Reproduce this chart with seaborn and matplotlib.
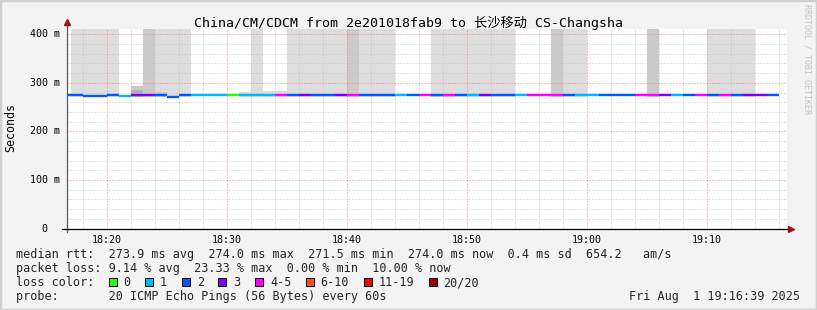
import numpy as np
import pandas as pd
import matplotlib
matplotlib.use("Agg")
import matplotlib.pyplot as plt
import seaborn as sns
from matplotlib.ticker import MultipleLocator, FixedLocator, NullFormatter
from matplotlib.lines import Line2D
from matplotlib.patches import Rectangle
from matplotlib import transforms

# ---------------- data ----------------
start_times = ["18:16:40"] + [t.strftime("%H:%M") for t in
                              pd.date_range("2025-08-01 18:17", "2025-08-01 19:15", freq="1min")]
end_time = "19:16"

median_ms = [274.0,
             274.0, 272.0, 272.0, 274.0, 272.0, 274.0, 274.0, 274.0, 271.5, 274.0,
             274.0, 274.0, 274.0, 274.0, 274.0, 274.0, 274.0, 274.0, 274.0, 274.0,
             274.0, 274.0, 274.0, 274.0, 274.0, 274.0, 274.0, 274.0, 274.0, 274.0,
             274.0, 274.0, 274.0, 274.0, 274.0, 274.0, 274.0, 274.0, 274.0, 274.0,
             274.0, 274.0, 274.0, 274.0, 274.0, 274.0, 274.0, 274.0, 274.0, 274.0,
             274.0, 274.0, 274.0, 274.0, 274.0, 274.0, 274.0, 274.0, 274.0]

loss_pings = [2,
              2, 2, 2, 2, 1, 3, 3, 2, 2, 2,
              1, 1, 1, 0, 1, 1, 1, 4, 2, 3,
              2, 2, 3, 4, 2, 2, 2, 1, 2, 4,
              2, 4, 2, 1, 3, 2, 2, 1, 4, 4,
              4, 2, 1, 1, 2, 2, 2, 4, 4, 3,
              1, 2, 4, 2, 4, 2, 3, 3, 2]

nan = np.nan
# smoke band tops (ms); 480 = outliers above the visible range
smoke_light_top = [nan,
                   480, 480, 480, 480, nan, nan, nan, 480, 480, 480,
                   nan, nan, nan, nan, 281, 480, 283, 283, 480, 480,
                   480, 480, 480, nan, 480, 480, 480, nan, nan, nan,
                   480, 480, 480, 480, 480, 480, 480, nan, nan, nan,
                   nan, 480, 480, nan, nan, nan, nan, nan, nan, nan,
                   nan, nan, nan, 480, 480, 480, 480, nan, nan]
smoke_dark_top = [nan,
                  nan, nan, nan, nan, nan, 293, 480, 282, nan, nan,
                  nan, nan, nan, nan, nan, nan, nan, nan, nan, nan,
                  nan, nan, nan, 480, nan, nan, nan, nan, nan, nan,
                  278, 278, nan, nan, nan, nan, nan, nan, nan, nan,
                  480, nan, nan, nan, nan, nan, nan, nan, 480, nan,
                  nan, nan, nan, nan, nan, nan, nan, nan, nan]
smoke_inner_top = [nan,
                   nan, nan, nan, nan, nan, 286, nan, nan, nan, nan,
                   nan, nan, nan, nan, nan, nan, nan, nan, nan, nan,
                   nan, nan, nan, nan, nan, nan, nan, nan, nan, nan,
                   nan, nan, nan, nan, nan, nan, nan, nan, nan, nan,
                   nan, nan, nan, nan, nan, nan, nan, nan, nan, nan,
                   nan, nan, nan, nan, nan, nan, nan, nan, nan]
smoke_low_ms = 271.0

loss_bins = ["0", "1", "2", "3", "4-5", "6-10", "11-19", "20/20"]
loss_bin_min = [0, 1, 2, 3, 4, 6, 11, 20]
loss_bin_colors = ["#26ff00", "#00b8ff", "#0059ff", "#7e00ff",
                   "#ff00ff", "#ff5500", "#ff0000", "#a10000"]

x_tick_labels = ["18:20", "18:30", "18:40", "18:50", "19:00", "19:10"]
y_tick_values = [0, 100, 200, 300, 400]
y_tick_labels = ["0", "100 m", "200 m", "300 m", "400 m"]

title = "China/CM/CDCM from 2e201018fab9 to 长沙移动 CS-Changsha"
line_rtt = "median rtt:  273.9 ms avg  274.0 ms max  271.5 ms min  274.0 ms now  0.4 ms sd  654.2   am/s"
line_loss = "packet loss: 9.14 % avg  23.33 % max  0.00 % min  10.00 % now"
line_color = "loss color:"
line_probe = "probe:       20 ICMP Echo Pings (56 Bytes) every 60s"
stamp = "Fri Aug  1 19:16:39 2025"
side_text = "RRDTOOL / TOBI OETIKER"

# ---------------- helpers ----------------
def to_min(s):
    p = [int(v) for v in s.split(":")]
    while len(p) < 3:
        p.append(0)
    return p[0] * 60 + p[1] + p[2] / 60.0 - 18 * 60

x_left = np.array([to_min(s) for s in start_times])
x_right = np.append(x_left[1:], to_min(end_time))
widths = x_right - x_left

def bin_index(n):
    idx = 0
    for i, m in enumerate(loss_bin_min):
        if n >= m:
            idx = i
    return idx

seg_colors = [loss_bin_colors[bin_index(n)] for n in loss_pings]

# ---------------- figure ----------------
sns.set_theme(style="white")
plt.rcParams["font.family"] = ["DejaVu Sans Mono", "Noto Sans CJK SC"]

W, H = 817, 310
def fx(x): return x / W
def fy(y): return 1 - y / H

fig = plt.figure(figsize=(W / 100, H / 100), dpi=100, facecolor="#f3f3f3")
L, R, T, B = 66.5, 786.5, 28.5, 228.5
ax = fig.add_axes([fx(L), fy(B), (R - L) / W, (B - T) / H])
ax.set_facecolor("white")

# smoke
for tops, col in [(smoke_light_top, "#dddddd"), (smoke_dark_top, "#cacaca"),
                  (smoke_inner_top, "#b2b2b2")]:
    tops = np.array(tops, float)
    m = ~np.isnan(tops)
    ax.bar(x_left[m], tops[m] - smoke_low_ms, bottom=smoke_low_ms, width=widths[m],
           align="edge", color=col, linewidth=0, zorder=1)

# median line coloured by loss
ax.hlines(median_ms, x_left, x_right, colors=seg_colors, linewidth=1.7,
          zorder=3, capstyle="butt")

ax.set_xlim(16 + 2 / 3, 76 + 2 / 3)
ax.set_ylim(0, 412)

x_major = [to_min(s) for s in x_tick_labels]
ax.xaxis.set_major_locator(FixedLocator(x_major))
ax.set_xticklabels(x_tick_labels)
ax.xaxis.set_minor_locator(FixedLocator([v for v in range(18, 77, 2) if v % 10]))
ax.yaxis.set_major_locator(FixedLocator(y_tick_values))
ax.yaxis.set_minor_locator(FixedLocator([v for v in range(20, 412, 20) if v % 100]))
ax.yaxis.set_major_formatter(NullFormatter())

ax.set_axisbelow(False)
ax.grid(which="minor", axis="both", color="#c6c6c6", linewidth=0.72,
        linestyle=(0, (1, 2)))
ax.grid(which="major", axis="both", color="#ff8080", linewidth=0.72,
        linestyle=(0, (1, 2)))

ax.tick_params(axis="x", which="major", labelsize=7.2, pad=2.5, length=2.5,
               width=0.72, color="#e07070", direction="out", labelcolor="#000000")
ax.tick_params(axis="x", which="minor", length=2, width=0.72, color="#aaaaaa", direction="out")
ax.tick_params(axis="y", which="major", length=2.5, width=0.72, color="#e07070", direction="out")
ax.tick_params(axis="y", which="minor", length=2, width=0.72, color="#aaaaaa", direction="out")
sns.despine(ax=ax, left=True, bottom=True)

# y tick labels (units padded like rrdtool)
ytrans = transforms.blended_transform_factory(fig.transFigure, ax.transData)
for v, lab in zip(y_tick_values, y_tick_labels):
    pad = 0 if " " in lab else 12
    ax.text(fx(59.5 - pad), v, lab, transform=ytrans, ha="right", va="center",
            fontsize=7.2, color="#000000")

# axes lines with arrows
fig.add_artist(Line2D([fx(L), fx(L)], [fy(232), fy(21)], transform=fig.transFigure,
                      color="#5a5a5a", linewidth=0.9))
fig.add_artist(Line2D([fx(62), fx(790)], [fy(B), fy(B)], transform=fig.transFigure,
                      color="#000000", linewidth=0.9))
fig.add_artist(Line2D([fx(L)], [fy(22)], transform=fig.transFigure, marker="^",
                      markersize=4.5, color="#a01010", linestyle="none"))
fig.add_artist(Line2D([fx(791)], [fy(B)], transform=fig.transFigure, marker=">",
                      markersize=4.5, color="#a01010", linestyle="none"))

# texts
fig.text(fx(408), fy(26.5), title, ha="center", va="baseline", fontsize=9.5, color="#000000")
fig.text(fx(11), fy(128), "Seconds", rotation=90, ha="center", va="center",
         fontsize=8.4, color="#000000")
fig.text(fx(807), fy(4), side_text, rotation=270, ha="center", va="top",
         fontsize=6.0, color="#c4c4c4")

fs = 8.47
fig.text(fx(16), fy(258), line_rtt, ha="left", va="baseline", fontsize=fs)
fig.text(fx(16), fy(272), line_loss, ha="left", va="baseline", fontsize=fs)
fig.text(fx(16), fy(286), line_color, ha="left", va="baseline", fontsize=fs)
fig.text(fx(16), fy(300), line_probe, ha="left", va="baseline", fontsize=fs)
fig.text(fx(800), fy(300), stamp, ha="right", va="baseline", fontsize=fs)

# loss colour legend
bx = 108.5
for lab, col in zip(loss_bins, loss_bin_colors):
    fig.add_artist(Rectangle((fx(bx), fy(286)), 8 / W, 8 / H, transform=fig.transFigure,
                             facecolor=col, edgecolor="#000000", linewidth=0.72))
    fig.text(fx(bx + 15), fy(286), lab, ha="left", va="baseline", fontsize=fs)
    bx += 15 + 7.1 * len(lab) + 14.5

# frame
fig.add_artist(Rectangle((0, 0), 1, 1, transform=fig.transFigure, fill=False,
                         edgecolor="#cfcfcf", linewidth=2.5))

fig.savefig("out.png", dpi=100, facecolor=fig.get_facecolor())
